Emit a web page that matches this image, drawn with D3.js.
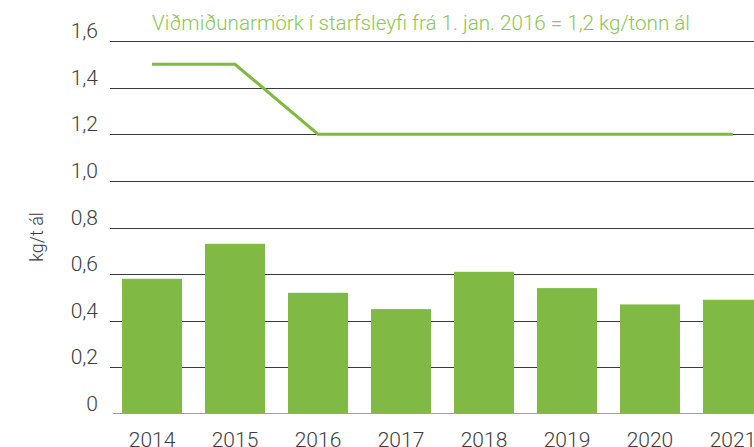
<!DOCTYPE html>
<html>
<head>
<meta charset="utf-8">
<script src="https://cdn.jsdelivr.net/npm/d3@7"></script>
<style>
  body { margin: 0; background: #fff; }
  text { font-family: Roboto, "DejaVu Sans", sans-serif; }
</style>
</head>
<body>
<div id="myPlot"></div>
<script>
// data
const years = ["2014", "2015", "2016", "2017", "2018", "2019", "2020", "2021"];
const values = [0.58, 0.73, 0.52, 0.45, 0.61, 0.54, 0.47, 0.49];
const limit = [1.5, 1.5, 1.2, 1.2, 1.2, 1.2, 1.2, 1.2];
const yTicks = [0, 0.2, 0.4, 0.6, 0.8, 1.0, 1.2, 1.4, 1.6];
const title = "Viðmiðunarmörk í starfsleyfi frá 1. jan. 2016 = 1,2 kg/tonn ál";
const yLabel = "kg/t ál";

const width = 754, height = 447;
const plotLeft = 110, plotRight = 775, plotTop = 41, plotBottom = 414;

const svg = d3.select("#myPlot")
  .append("svg")
  .attr("width", width)
  .attr("height", height);

const x = d3.scaleBand()
  .domain(years)
  .range([plotLeft, plotRight])
  .paddingInner(0.277)
  .paddingOuter(0.145);

const y = d3.scaleLinear()
  .domain([0, 1.6])
  .range([plotBottom, plotTop]);

const fmt = d => d === 0 ? "0" : d3.format(".1f")(d).replace(".", ",");

// gridlines
svg.append("g")
  .selectAll("line")
  .data(yTicks.filter(d => d > 0))
  .enter().append("line")
  .attr("x1", plotLeft)
  .attr("x2", width)
  .attr("y1", d => Math.round(y(d)) + 0.5)
  .attr("y2", d => Math.round(y(d)) + 0.5)
  .attr("stroke", "#3a3a3a")
  .attr("stroke-width", 1);

// y tick labels
svg.append("g")
  .selectAll("text")
  .data(yTicks)
  .enter().append("text")
  .attr("x", 98)
  .attr("y", d => y(d) - 3)
  .attr("text-anchor", "end")
  .attr("font-size", 21)
  .attr("font-weight", 300)
  .attr("fill", "#3c3c3c")
  .text(fmt);

// bars
svg.append("g")
  .selectAll("rect")
  .data(values)
  .enter().append("rect")
  .attr("x", (d, i) => x(years[i]))
  .attr("y", d => y(d))
  .attr("width", x.bandwidth())
  .attr("height", d => y(0) - y(d))
  .attr("fill", "#80b943");

// zero line
svg.append("line")
  .attr("x1", 113)
  .attr("x2", width)
  .attr("y1", y(0) - 0.5)
  .attr("y2", y(0) - 0.5)
  .attr("stroke", "#a0a0a0")
  .attr("stroke-width", 1);

// x labels (cut off by the bottom edge, as in the original)
svg.append("g")
  .selectAll("text")
  .data(years)
  .enter().append("text")
  .attr("x", d => x(d) + x.bandwidth() / 2)
  .attr("y", 447)
  .attr("text-anchor", "middle")
  .attr("font-size", 21)
  .attr("font-weight", 300)
  .attr("fill", "#3c3c3c")
  .text(d => d);

// limit line
const line = d3.line()
  .x((d, i) => x(years[i]) + x.bandwidth() / 2)
  .y(d => y(d));

svg.append("path")
  .datum(limit)
  .attr("d", line)
  .attr("fill", "none")
  .attr("stroke", "#7dba3f")
  .attr("stroke-width", 3);

// title
svg.append("text")
  .attr("x", 152)
  .attr("y", 30)
  .attr("font-size", 21)
  .attr("font-weight", 300)
  .attr("textLength", 538)
  .attr("lengthAdjust", "spacingAndGlyphs")
  .attr("fill", "#8cc653")
  .text(title);

// y axis label
svg.append("text")
  .attr("transform", "translate(43,237) rotate(-90)")
  .attr("text-anchor", "middle")
  .attr("font-size", 18)
  .attr("font-weight", 300)
  .attr("fill", "#3c3c3c")
  .text(yLabel);
</script>
</body>
</html>
